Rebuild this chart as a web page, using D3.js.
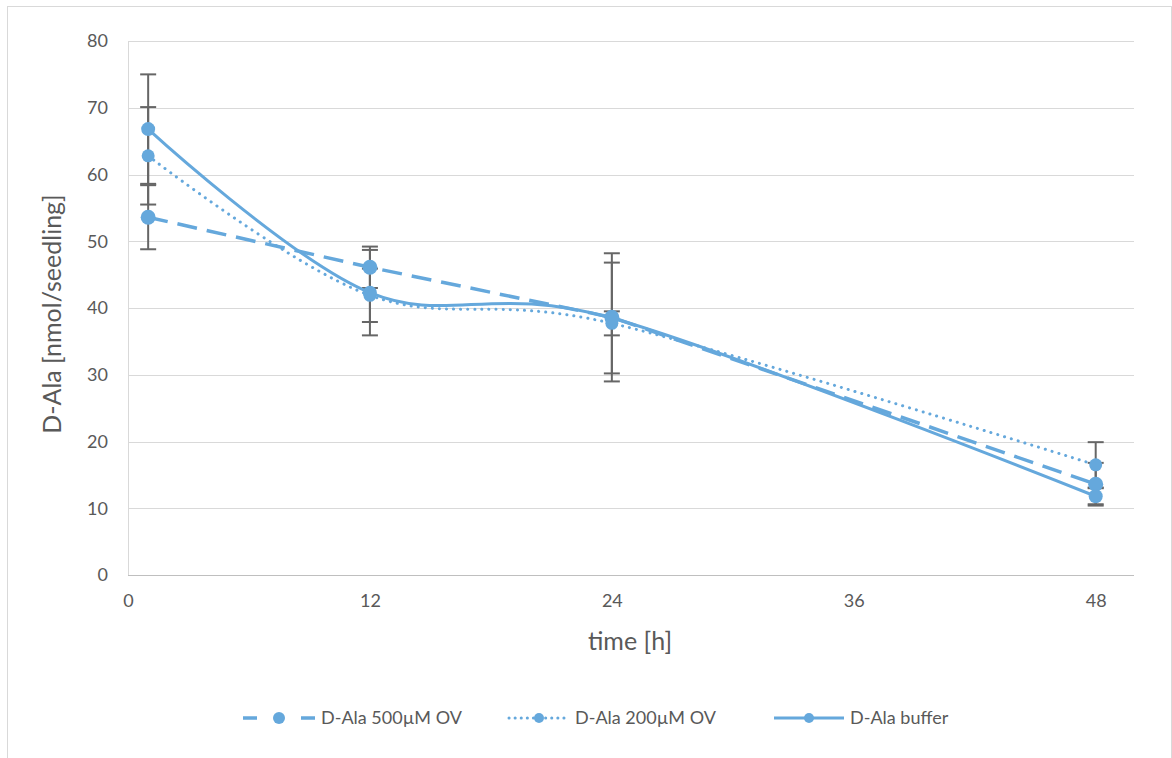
<!DOCTYPE html>
<html lang="en">
<head>
    <meta charset="UTF-8">
    <title>D-Ala over time</title>
    <script src="https://d3js.org/d3.v7.min.js"></script>
    <style>
        body {
            margin: 0;
            background: #fff;
            font-family: Lato, "Open Sans", sans-serif;
        }
        .grid line {
            stroke: #d9d9d9;
            stroke-width: 1px;
        }
        .tick text {
            fill: #595959;
            font-size: 18px;
            font-family: Lato, sans-serif;
        }
    </style>
</head>
<body>
    <div id="chart"></div>
    <script>
        // Values
        const times = [1, 12, 24, 48];
        const xTicks = [0, 12, 24, 36, 48];
        const yTicks = [0, 10, 20, 30, 40, 50, 60, 70, 80];

        const ala500 = [53.6, 46.1, 38.6, 13.6];
        const ala500Err = [4.8, 3.1, 9.6, 3.2];

        const ala200 = [62.8, 41.9, 37.7, 16.5];
        const ala200Err = [7.3, 4.0, 1.8, 3.4];

        const alaBuffer = [66.8, 42.3, 38.5, 11.8];
        const alaBufferErr = [8.2, 6.4, 8.3, 1.2];

        const series = [
            { name: "D-Ala 500\u00b5M OV", values: ala500, err: ala500Err, dash: "20,10", width: 3.5, cap: "butt", r: 7.5, smooth: false },
            { name: "D-Ala 200\u00b5M OV", values: ala200, err: ala200Err, dash: "0.1,7", width: 3, cap: "round", r: 6.5, smooth: true },
            { name: "D-Ala buffer", values: alaBuffer, err: alaBufferErr, dash: null, width: 3, cap: "butt", r: 7, smooth: true }
        ];

        const width = 1172;
        const height = 758;
        const color = "#65a8dc";
        const errColor = "#666666";

        const svg = d3.select("#chart")
            .append("svg")
            .attr("width", width)
            .attr("height", height);

        // outer chart border
        svg.append("rect")
            .attr("x", 7.5).attr("y", 6.5)
            .attr("width", 1164).attr("height", 760)
            .attr("fill", "none")
            .attr("stroke", "#d9d9d9");

        const plot = { left: 128, right: 1134, top: 41, bottom: 575 };

        const x = d3.scaleLinear().domain([0, 49.9]).range([plot.left, plot.right]);
        const y = d3.scaleLinear().domain([0, 80]).range([plot.bottom, plot.top]);

        // horizontal gridlines
        svg.append("g")
            .attr("class", "grid")
            .selectAll("line")
            .data(yTicks.filter(d => d > 0))
            .enter().append("line")
            .attr("x1", plot.left).attr("x2", plot.right)
            .attr("y1", d => Math.round(y(d)) + 0.5)
            .attr("y2", d => Math.round(y(d)) + 0.5);

        // y axis
        const yAxis = svg.append("g")
            .attr("transform", `translate(${plot.left},0)`)
            .call(d3.axisLeft(y).tickValues(yTicks).tickSize(0).tickPadding(20));
        yAxis.select(".domain").attr("stroke", "#d9d9d9");

        // x axis
        const xAxis = svg.append("g")
            .attr("transform", `translate(0,${plot.bottom + 0.5})`)
            .call(d3.axisBottom(x).tickValues(xTicks).tickSize(0).tickPadding(19));
        xAxis.select(".domain").attr("stroke", "#bfbfbf").attr("d", `M${plot.left},0H${plot.right}`);

        // axis titles
        svg.append("text")
            .attr("x", 630).attr("y", 650)
            .attr("text-anchor", "middle")
            .attr("fill", "#595959")
            .attr("font-size", 25)
            .text("time [h]");

        svg.append("text")
            .attr("transform", "translate(61,314) rotate(-90)")
            .attr("text-anchor", "middle")
            .attr("fill", "#595959")
            .attr("font-size", 25)
            .text("D-Ala [nmol/seedling]");

        // error bars
        const errG = svg.append("g");
        series.forEach(s => {
            s.values.forEach((v, i) => {
                const cx = x(times[i]);
                const y1 = y(v + s.err[i]);
                const y2 = y(v - s.err[i]);
                errG.append("line")
                    .attr("x1", cx).attr("x2", cx)
                    .attr("y1", y1).attr("y2", y2)
                    .attr("stroke", errColor).attr("stroke-width", 2);
                [y1, y2].forEach(yy => {
                    errG.append("line")
                        .attr("x1", cx - 8).attr("x2", cx + 8)
                        .attr("y1", yy).attr("y2", yy)
                        .attr("stroke", errColor).attr("stroke-width", 2);
                });
            });
        });

        // lines and markers
        series.forEach(s => {
            const line = d3.line()
                .x((d, i) => x(times[i]))
                .y(d => y(d))
                .curve(s.smooth ? d3.curveCardinal.tension(0) : d3.curveLinear);

            svg.append("path")
                .datum(s.values)
                .attr("d", line)
                .attr("fill", "none")
                .attr("stroke", color)
                .attr("stroke-width", s.width)
                .attr("stroke-linecap", s.cap)
                .attr("stroke-dasharray", s.dash);

            svg.append("g")
                .selectAll("circle")
                .data(s.values)
                .enter().append("circle")
                .attr("cx", (d, i) => x(times[i]))
                .attr("cy", d => y(d))
                .attr("r", s.r)
                .attr("fill", color);
        });

        // legend
        const legendPos = [243, 509, 774];
        const legendLen = [72, 60, 70];
        const legendDash = ["14,44,14", "0.1,6", null];
        const legend = svg.append("g");
        series.forEach((s, i) => {
            const lx = legendPos[i];
            const ly = 718;
            legend.append("line")
                .attr("x1", lx).attr("x2", lx + legendLen[i])
                .attr("y1", ly).attr("y2", ly)
                .attr("stroke", color)
                .attr("stroke-width", s.width)
                .attr("stroke-linecap", s.cap)
                .attr("stroke-dasharray", legendDash[i]);
            legend.append("circle")
                .attr("cx", lx + legendLen[i] / 2).attr("cy", ly)
                .attr("r", i === 0 ? 6 : 5)
                .attr("fill", color);
            legend.append("text")
                .attr("x", lx + legendLen[i] + 6).attr("y", ly + 6)
                .attr("fill", "#595959")
                .attr("font-size", 18)
                .text(s.name);
        });
    </script>
</body>
</html>
